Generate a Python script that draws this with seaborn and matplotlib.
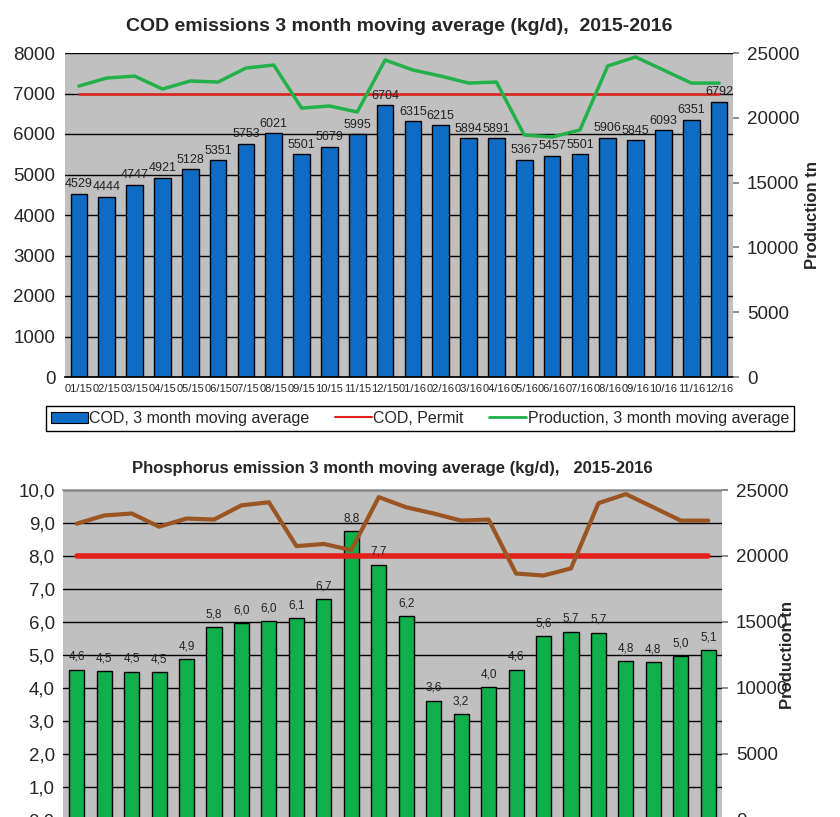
import numpy as np
import pandas as pd
import matplotlib
matplotlib.use("Agg")
import matplotlib.pyplot as plt
import seaborn as sns
from matplotlib.patches import Patch
from matplotlib.lines import Line2D
from matplotlib.ticker import FuncFormatter

months = ["01/15", "02/15", "03/15", "04/15", "05/15", "06/15", "07/15", "08/15",
          "09/15", "10/15", "11/15", "12/15", "01/16", "02/16", "03/16", "04/16",
          "05/16", "06/16", "07/16", "08/16", "09/16", "10/16", "11/16", "12/16"]
cod = [4529, 4444, 4747, 4921, 5128, 5351, 5753, 6021, 5501, 5679, 5995, 6704,
       6315, 6215, 5894, 5891, 5367, 5457, 5501, 5906, 5845, 6093, 6351, 6792]
cod_permit = 7000
production = [22450, 23070, 23220, 22220, 22840, 22760, 23840, 24070, 20750, 20910,
              20450, 24460, 23690, 23220, 22680, 22760, 18670, 18520, 19060, 24000,
              24690, 23690, 22680, 22680]
phosphorus = [4.56, 4.52, 4.50, 4.47, 4.87, 5.84, 5.98, 6.02, 6.12, 6.70, 8.76, 7.74,
              6.17, 3.62, 3.21, 4.02, 4.56, 5.58, 5.71, 5.68, 4.82, 4.78, 4.97, 5.14]
p_permit = 8.0

sns.set_theme(style="white")
plt.rcParams["font.family"] = ["Liberation Sans", "DejaVu Sans"]
NARROW = ["Liberation Sans Narrow", "Liberation Sans", "DejaVu Sans"]

BG = "#C0C0C0"
BLUE = "#0E6CC4"
GREEN_BAR = "#0FAF4B"
GREEN_LINE = "#22B04B"
RED = "#E3201C"
BROWN = "#9A5522"

n = len(months)
idx = np.arange(n)
df = pd.DataFrame({"month": months, "cod": cod, "prod": production, "p": phosphorus})

fig = plt.figure(figsize=(8.4, 8.17), dpi=100)

# ---------------- Top chart ----------------
ax1 = fig.add_axes([65/840, 1-377/817, 668/840, 324/817])
ax1.set_facecolor(BG)
sns.barplot(data=df, x="month", y="cod", ax=ax1, color=BLUE, width=0.6,
            edgecolor="black", linewidth=1, saturation=1)
ax1.set_ylim(0, 8000)
ax1.set_xlim(-0.5, n - 0.5)
ax1.set_yticks(np.arange(0, 8001, 1000))
ax1.yaxis.grid(True, color="black", linewidth=1)
ax1.set_axisbelow(True)
for s in ["top", "right", "left"]:
    ax1.spines[s].set_visible(False)
ax1.spines["bottom"].set_color("black")
ax1.set_xlabel("")
ax1.set_ylabel("")
ax1.tick_params(axis="y", labelsize=13.5, length=0, pad=7)
ax1.tick_params(axis="x", length=0, pad=5)
for lab in ax1.get_xticklabels():
    lab.set_fontfamily(NARROW)
    lab.set_fontsize(8)
for i, v in enumerate(cod):
    ax1.text(i, v + 90, f"{v}", ha="center", va="bottom", fontsize=9,
             family=NARROW, color="#222222")
sns.lineplot(x=idx, y=[cod_permit]*n, ax=ax1, color=RED, linewidth=1.8)

ax1b = ax1.twinx()
sns.lineplot(x=idx, y=production, ax=ax1b, color=GREEN_LINE, linewidth=2.5)
ax1b.set_ylim(0, 25000)
ax1b.set_yticks(np.arange(0, 25001, 5000))
for s in ["top", "left", "bottom", "right"]:
    ax1b.spines[s].set_visible(False)
ax1b.tick_params(axis="y", labelsize=13.5, length=4, color="#808080", pad=6, direction="out")
ax1b.set_ylabel("Production tn", fontsize=12, fontweight="bold", labelpad=4)
ax1.set_title("COD emissions 3 month moving average (kg/d),  2015-2016",
              fontsize=14, fontweight="bold", pad=16)

handles = [Patch(facecolor=BLUE, edgecolor="black", linewidth=0.8),
           Line2D([], [], color=RED, linewidth=1.5),
           Line2D([], [], color=GREEN_LINE, linewidth=2)]
labels = ["COD, 3 month moving average", "COD, Permit", "Production, 3 month moving average"]
leg = fig.legend(handles, labels, loc="center", ncol=3,
                 bbox_to_anchor=(43/840, 1-432/817, 754/840, 27/817),
                 frameon=True, fancybox=False, edgecolor="black", framealpha=1,
                 fontsize=11.5, handlelength=2.3, handletextpad=0.1, columnspacing=1.6,
                 borderpad=0.3)
leg.get_frame().set_linewidth(1)

# ---------------- Bottom chart ----------------
ax2 = fig.add_axes([63/840, 1-820/817, 659/840, 330/817])
ax2.set_facecolor(BG)
sns.barplot(data=df, x="month", y="p", ax=ax2, color=GREEN_BAR, width=0.55,
            edgecolor="black", linewidth=1, saturation=1)
ax2.set_ylim(0, 10)
ax2.set_xlim(-0.5, n - 0.5)
ax2.set_yticks(np.arange(0, 10.01, 1.0))
ax2.yaxis.set_major_formatter(FuncFormatter(lambda v, p: f"{v:.1f}".replace(".", ",")))
ax2.yaxis.grid(True, color="black", linewidth=1)
ax2.set_axisbelow(True)
for s in ["top", "right", "left"]:
    ax2.spines[s].set_visible(False)
ax2.spines["top"].set_visible(True)
ax2.spines["top"].set_color("#999999")
ax2.set_xlabel("")
ax2.set_ylabel("")
ax2.set_xticklabels([])
ax2.tick_params(axis="x", length=0)
ax2.tick_params(axis="y", labelsize=13.5, length=0, pad=6)
for i, v in enumerate(phosphorus):
    ax2.text(i, v + 0.2, f"{v:.1f}".replace(".", ","), ha="center", va="bottom",
             fontsize=8.5, family=NARROW, color="#222222")
sns.lineplot(x=idx, y=[p_permit]*n, ax=ax2, color=RED, linewidth=4)

ax2b = ax2.twinx()
sns.lineplot(x=idx, y=production, ax=ax2b, color=BROWN, linewidth=3)
ax2b.set_ylim(0, 25000)
ax2b.set_yticks(np.arange(0, 25001, 5000))
for s in ["top", "left", "bottom", "right"]:
    ax2b.spines[s].set_visible(False)
ax2b.tick_params(axis="y", labelsize=13.5, length=4, color="#808080", pad=6, direction="out")
ax2b.set_ylabel("Production tn", fontsize=12, fontweight="bold", labelpad=-6)
ax2.set_title("Phosphorus emission 3 month moving average (kg/d),   2015-2016",
              fontsize=12, fontweight="bold", pad=12)

fig.savefig("out.png", dpi=100)
